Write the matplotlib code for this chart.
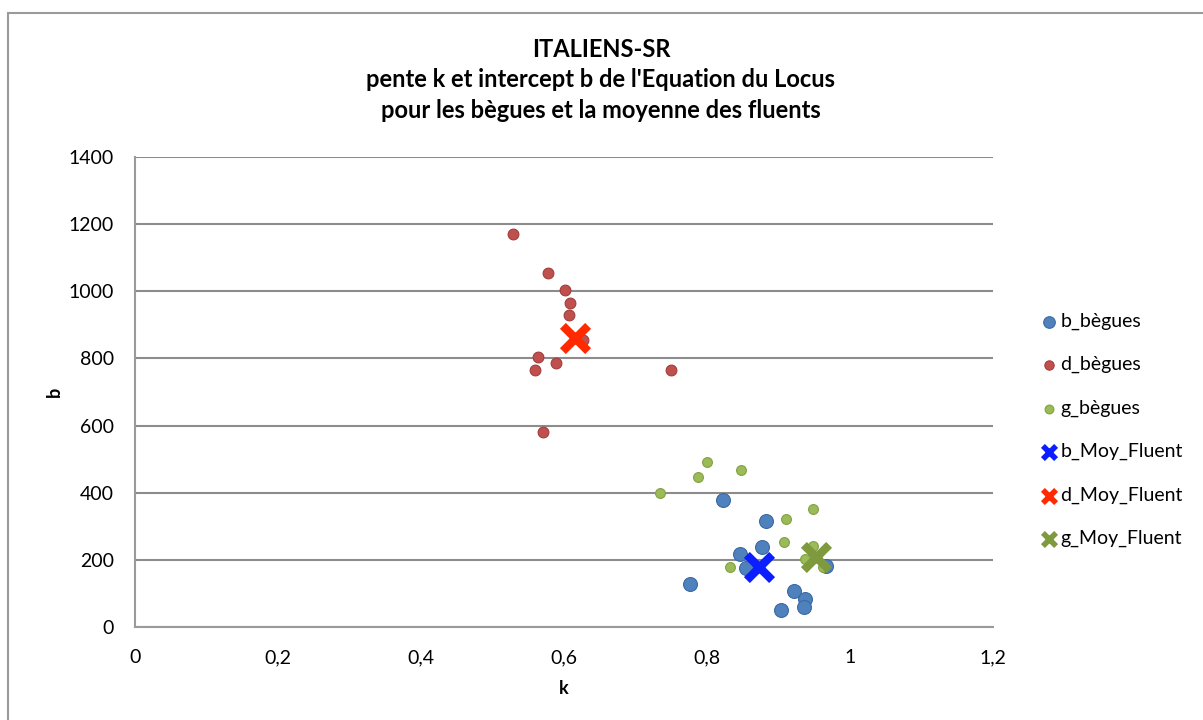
import matplotlib.pyplot as plt
from matplotlib.patches import Rectangle
from matplotlib.ticker import FuncFormatter

plt.rcParams['font.family'] = ['Lato', 'DejaVu Sans']

# stutterers, per consonant (k = slope, b = intercept)
b_begues_k = [0.823, 0.883, 0.877, 0.846, 0.855, 0.776, 0.921, 0.937, 0.936, 0.903, 0.967]
b_begues_b = [378, 317, 239, 216, 177, 127, 108, 82, 60, 51, 182]

d_begues_k = [0.529, 0.577, 0.601, 0.609, 0.607, 0.627, 0.563, 0.559, 0.589, 0.749, 0.571]
d_begues_b = [1172, 1055, 1004, 966, 930, 855, 804, 765, 785, 765, 580]

g_begues_k = [0.800, 0.788, 0.847, 0.734, 0.948, 0.910, 0.907, 0.832, 0.937, 0.948, 0.962]
g_begues_b = [491, 448, 469, 398, 352, 323, 253, 178, 203, 241, 180]

# fluent speakers mean
moy_labels = ['b_Moy_Fluent', 'd_Moy_Fluent', 'g_Moy_Fluent']
moy_k = [0.872, 0.615, 0.953]
moy_b = [180, 860, 209]

fig = plt.figure(figsize=(12.03, 7.2), dpi=100)
ax = fig.add_axes([0.1122, 0.1292, 0.7133, 0.6527])

ax.scatter(b_begues_k, b_begues_b, s=100, color='#4F81BD', edgecolors='#3A6AA5',
           linewidths=0.8, label='b_bègues', zorder=3)
ax.scatter(d_begues_k, d_begues_b, s=60, color='#C0504D', edgecolors='#A23D3A',
           linewidths=0.8, label='d_bègues', zorder=3)
ax.scatter(g_begues_k, g_begues_b, s=50, color='#9BBB59', edgecolors='#82A044',
           linewidths=0.8, label='g_bègues', zorder=3)

moy_colors = ['#0A1EFF', '#FF2A00', '#7F9A3E']
for lab, kk, bb, c in zip(moy_labels, moy_k, moy_b, moy_colors):
    ax.scatter([kk], [bb], s=330, marker='x', color=c, linewidths=6,
               label=lab, zorder=4)

ax.set_xlim(0, 1.2)
ax.set_ylim(0, 1400)
ax.set_xticks([0, 0.2, 0.4, 0.6, 0.8, 1.0, 1.2])
ax.set_yticks(range(0, 1401, 200))
ax.xaxis.set_major_formatter(FuncFormatter(lambda v, p: ('%g' % round(v, 1)).replace('.', ',')))
ax.tick_params(length=0, labelsize=14, pad=16)
ax.tick_params(axis='y', pad=15)
ax.grid(axis='y', color='#8C8C8C', linewidth=1.5)
ax.set_axisbelow(True)
for s in ['top', 'right']:
    ax.spines[s].set_visible(False)
for s in ['left', 'bottom']:
    ax.spines[s].set_color('#9A9A9A')
    ax.spines[s].set_linewidth(1.5)

ax.set_xlabel('k', fontsize=13, fontweight='bold', labelpad=10)
ax.set_ylabel('b', fontsize=13, fontweight='bold', labelpad=4)

fig.text(0.4995, 0.9306, 'ITALIENS-SR', ha='center', va='center', fontsize=17, fontweight='bold')
fig.text(0.4995, 0.889, "pente k et intercept b de l'Equation du Locus", ha='center', va='center',
         fontsize=17, fontweight='bold')
fig.text(0.4995, 0.846, 'pour les bègues et la moyenne des fluents', ha='center', va='center',
         fontsize=17, fontweight='bold')

leg = ax.legend(loc='center left', bbox_to_anchor=(1.033, 0.419), frameon=False, fontsize=14,
                labelspacing=1.35, handletextpad=-0.4, borderaxespad=0)
sizes = [70, 45, 40, 90, 90, 90]
for h, sz in zip(leg.legend_handles, sizes):
    h.set_sizes([sz])
for h in leg.legend_handles[3:]:
    h.set_linewidths([4])

fig.patches.append(Rectangle((8 / 1203, -0.05), 1.2, (720 - 13) / 720 + 0.05,
                             transform=fig.transFigure, fill=False,
                             edgecolor='#9A9A9A', linewidth=1.5))

fig.savefig('out.png', dpi=100)
